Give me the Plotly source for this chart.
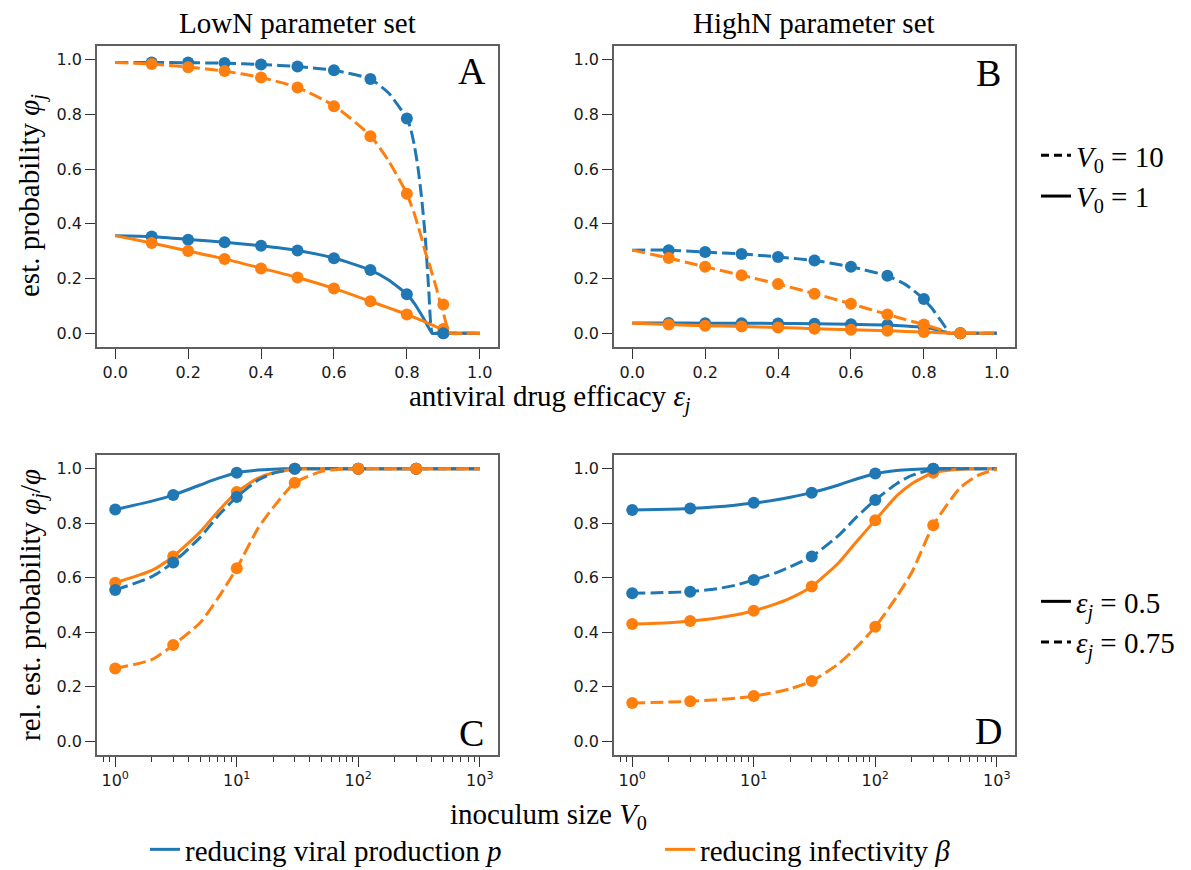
import plotly.graph_objects as go

# ---------------- data ----------------
BLUE = "#1f77b4"
ORANGE = "#ff7f0e"

# efficacy grid for the model curves (panels A, B)
eps_grid = [0, 0.1, 0.2, 0.3, 0.4, 0.5, 0.6, 0.7, 0.75, 0.8, 0.81, 0.82, 0.83, 0.84,
            0.85, 0.86, 0.87, 0.88, 0.89, 0.9, 0.91, 0.92, 0.95, 1.0]
# efficacies of the simulation points
eps_sim = [0.1, 0.2, 0.3, 0.4, 0.5, 0.6, 0.7, 0.8, 0.9]

# Panel A (LowN)
lowN_p_V1_curve = [0.357, 0.354, 0.343, 0.333, 0.320, 0.303, 0.275, 0.231, 0.195, 0.143, 0.128, 0.110,
                   0.090, 0.068, 0.045, 0.020, 0.0, 0, 0, 0, 0, 0, 0, 0]
lowN_b_V1_curve = [0.357, 0.330, 0.301, 0.272, 0.238, 0.204, 0.164, 0.117, 0.093, 0.069, 0.064, 0.058,
                   0.053, 0.047, 0.042, 0.036, 0.030, 0.024, 0.018, 0.010, 0.0, 0, 0, 0]
lowN_p_V10_curve = [0.990, 0.990, 0.989, 0.987, 0.982, 0.975, 0.961, 0.929, 0.878, 0.785, 0.750, 0.690,
                    0.610, 0.500, 0.360, 0.160, 0.0, 0, 0, 0, 0, 0, 0, 0]
lowN_b_V10_curve = [0.990, 0.984, 0.973, 0.958, 0.935, 0.898, 0.832, 0.722, 0.630, 0.510, 0.475, 0.440,
                    0.395, 0.350, 0.300, 0.260, 0.215, 0.170, 0.120, 0.075, 0.025, 0.0, 0, 0]
lowN_p_V1_sim = [0.354, 0.342, 0.333, 0.320, 0.303, 0.274, 0.231, 0.143, 0.0]
lowN_b_V1_sim = [0.330, 0.301, 0.272, 0.237, 0.204, 0.164, 0.117, 0.069, 0.016]
lowN_p_V10_sim = [0.990, 0.990, 0.988, 0.982, 0.975, 0.961, 0.929, 0.785, 0.0]
lowN_b_V10_sim = [0.984, 0.972, 0.959, 0.935, 0.898, 0.830, 0.720, 0.510, 0.105]

# Panel B (HighN)
highN_p_V1_curve = [0.038, 0.038, 0.037, 0.037, 0.036, 0.035, 0.033, 0.030, 0.027, 0.022, 0.020, 0.018,
                    0.015, 0.012, 0.008, 0.004, 0.0, 0, 0, 0, 0, 0, 0, 0]
highN_b_V1_curve = [0.037, 0.032, 0.028, 0.025, 0.021, 0.017, 0.013, 0.009, 0.007, 0.005, 0.0045, 0.004,
                    0.003, 0.0025, 0.002, 0.001, 0.0, 0, 0, 0, 0, 0, 0, 0]
highN_p_V10_curve = [0.304, 0.304, 0.297, 0.290, 0.279, 0.266, 0.243, 0.210, 0.178, 0.125, 0.110, 0.095,
                     0.077, 0.058, 0.040, 0.020, 0.0, 0, 0, 0, 0, 0, 0, 0]
highN_b_V10_curve = [0.304, 0.275, 0.243, 0.212, 0.180, 0.145, 0.108, 0.069, 0.050, 0.032, 0.028, 0.024,
                     0.020, 0.016, 0.012, 0.006, 0.0, 0, 0, 0, 0, 0, 0, 0]
highN_p_V1_sim = [0.038, 0.037, 0.037, 0.036, 0.035, 0.033, 0.030, 0.022, 0.0]
highN_b_V1_sim = [0.032, 0.028, 0.025, 0.021, 0.017, 0.013, 0.009, 0.005, 0.0]
highN_p_V10_sim = [0.304, 0.297, 0.290, 0.279, 0.266, 0.243, 0.210, 0.125, 0.0]
highN_b_V10_sim = [0.275, 0.243, 0.212, 0.180, 0.145, 0.108, 0.069, 0.032, 0.0]

# inoculum grid for model curves (panels C, D) and simulation inocula
V0_grid = [1, 2, 3, 5, 7, 10, 15, 20, 30, 50, 70, 100, 150, 200, 300, 500, 700, 1000]
V0_sim = [1, 3, 10, 30, 100, 300]

# Panel C (LowN, relative)
lowN_p_e50_curve = [0.850, 0.881, 0.903, 0.940, 0.964, 0.985, 0.995, 0.998, 1.0, 1, 1, 1, 1, 1, 1, 1, 1, 1]
lowN_b_e50_curve = [0.582, 0.627, 0.678, 0.768, 0.843, 0.914, 0.965, 0.985, 0.998, 1.0, 1, 1, 1, 1, 1, 1, 1, 1]
lowN_p_e75_curve = [0.555, 0.604, 0.656, 0.748, 0.826, 0.896, 0.958, 0.983, 0.998, 1.0, 1, 1, 1, 1, 1, 1, 1, 1]
lowN_b_e75_curve = [0.267, 0.300, 0.353, 0.435, 0.525, 0.635, 0.782, 0.858, 0.948, 0.990, 0.998, 1.0, 1, 1, 1, 1, 1, 1]
lowN_p_e50_sim = [0.850, 0.903, 0.985, 1.0, 1.0, 1.0]
lowN_b_e50_sim = [0.582, 0.678, 0.914, 1.0, 1.0, 1.0]
lowN_p_e75_sim = [0.555, 0.656, 0.896, 1.0, 1.0, 1.0]
lowN_b_e75_sim = [0.267, 0.353, 0.635, 0.948, 1.0, 1.0]

# Panel D (HighN, relative)
highN_p_e50_curve = [0.848, 0.851, 0.854, 0.860, 0.866, 0.874, 0.885, 0.895, 0.912, 0.940, 0.962, 0.981,
                     0.993, 0.997, 1.0, 1.0, 1.0, 1.0]
highN_b_e50_curve = [0.430, 0.435, 0.441, 0.452, 0.463, 0.479, 0.503, 0.525, 0.568, 0.655, 0.732, 0.811,
                     0.900, 0.945, 0.985, 0.998, 1.0, 1.0]
highN_p_e75_curve = [0.543, 0.546, 0.549, 0.560, 0.572, 0.592, 0.617, 0.640, 0.678, 0.755, 0.822, 0.885,
                     0.945, 0.975, 0.997, 1.0, 1.0, 1.0]
highN_b_e75_curve = [0.141, 0.144, 0.147, 0.153, 0.158, 0.166, 0.180, 0.193, 0.221, 0.285, 0.345, 0.420,
                     0.530, 0.620, 0.792, 0.930, 0.975, 0.998]
highN_p_e50_sim = [0.848, 0.854, 0.875, 0.912, 0.982, 1.0]
highN_b_e50_sim = [0.430, 0.441, 0.479, 0.568, 0.811, 0.985]
highN_p_e75_sim = [0.543, 0.549, 0.592, 0.678, 0.885, 1.0]
highN_b_e75_sim = [0.141, 0.147, 0.166, 0.221, 0.420, 0.792]

lin_ticks = [0, 0.2, 0.4, 0.6, 0.8, 1.0]
log_ticks = [1, 10, 100, 1000]
log_ticktext = ["10<sup>0</sup>", "10<sup>1</sup>", "10<sup>2</sup>", "10<sup>3</sup>"]
log_minor = [0.8, 0.9, 2, 3, 4, 5, 6, 7, 8, 9, 20, 30, 40, 50, 60, 70, 80, 90,
             200, 300, 400, 500, 600, 700, 800, 900]

# ---------------- figure ----------------
# the page body has an 8px margin, so the figure is 8px smaller and positions are shifted
OFF = 8
W, H = 1191 - OFF, 870 - OFF
SERIF = "Liberation Serif"
DASH = "13px,5px"
LW = 3
MS = 12

fig = go.Figure()


def add_series(xc, yc, xs, ys, color, dash, xa, ya):
    fig.add_trace(go.Scatter(x=xc, y=yc, mode="lines", xaxis=xa, yaxis=ya,
                             line=dict(color=color, width=LW, dash=dash, shape="spline", smoothing=0.6),
                             showlegend=False, hoverinfo="skip"))
    fig.add_trace(go.Scatter(x=xs, y=ys, mode="markers", xaxis=xa, yaxis=ya,
                             marker=dict(color=color, size=MS, line=dict(width=0)),
                             showlegend=False))


# Panel A
add_series(eps_grid, lowN_p_V1_curve, eps_sim, lowN_p_V1_sim, BLUE, "solid", "x", "y")
add_series(eps_grid, lowN_b_V1_curve, eps_sim, lowN_b_V1_sim, ORANGE, "solid", "x", "y")
add_series(eps_grid, lowN_p_V10_curve, eps_sim, lowN_p_V10_sim, BLUE, DASH, "x", "y")
add_series(eps_grid, lowN_b_V10_curve, eps_sim, lowN_b_V10_sim, ORANGE, DASH, "x", "y")
# Panel B
add_series(eps_grid, highN_p_V1_curve, eps_sim, highN_p_V1_sim, BLUE, "solid", "x2", "y2")
add_series(eps_grid, highN_b_V1_curve, eps_sim, highN_b_V1_sim, ORANGE, "solid", "x2", "y2")
add_series(eps_grid, highN_p_V10_curve, eps_sim, highN_p_V10_sim, BLUE, DASH, "x2", "y2")
add_series(eps_grid, highN_b_V10_curve, eps_sim, highN_b_V10_sim, ORANGE, DASH, "x2", "y2")
# Panel C
add_series(V0_grid, lowN_p_e50_curve, V0_sim, lowN_p_e50_sim, BLUE, "solid", "x3", "y3")
add_series(V0_grid, lowN_b_e50_curve, V0_sim, lowN_b_e50_sim, ORANGE, "solid", "x3", "y3")
add_series(V0_grid, lowN_p_e75_curve, V0_sim, lowN_p_e75_sim, BLUE, DASH, "x3", "y3")
add_series(V0_grid, lowN_b_e75_curve, V0_sim, lowN_b_e75_sim, ORANGE, DASH, "x3", "y3")
# Panel D
add_series(V0_grid, highN_p_e50_curve, V0_sim, highN_p_e50_sim, BLUE, "solid", "x4", "y4")
add_series(V0_grid, highN_b_e50_curve, V0_sim, highN_b_e50_sim, ORANGE, "solid", "x4", "y4")
add_series(V0_grid, highN_p_e75_curve, V0_sim, highN_p_e75_sim, BLUE, DASH, "x4", "y4")
add_series(V0_grid, highN_b_e75_curve, V0_sim, highN_b_e75_sim, ORANGE, DASH, "x4", "y4")

# legend entries
def legend_entry(name, color, dash, legend):
    fig.add_trace(go.Scatter(x=[None], y=[None], mode="lines", name=name, legend=legend,
                             line=dict(color=color, width=3, dash=dash), hoverinfo="skip"))

legend_entry("reducing viral production <i>p</i>", BLUE, "solid", "legend")
legend_entry("reducing infectivity <i>β</i>", ORANGE, "solid", "legend4")
legend_entry("<i>V</i><sub>0</sub> = 10", "black", "8px,5px", "legend2")
legend_entry("<i>V</i><sub>0</sub> = 1", "black", "solid", "legend2")
legend_entry("<i>ε<sub>j</sub></i> = 0.5", "black", "solid", "legend3")
legend_entry("<i>ε<sub>j</sub></i> = 0.75", "black", "8px,5px", "legend3")


def px_x(p):
    return (p - OFF) / W


def px_y(p):
    return 1 - (p - OFF) / H


colA = [px_x(97), px_x(498)]
colB = [px_x(614), px_x(1015)]
rowTop = [px_y(347), px_y(46)]
rowBot = [px_y(755), px_y(455)]

axis_common = dict(showline=True, mirror=True, linecolor="#5f5f5f", linewidth=1.5,
                   ticks="outside", ticklen=10, tickwidth=1.3, tickcolor="#333333",
                   tickfont=dict(family="DejaVu Sans", size=16, color="#1a1a1a"),
                   showgrid=False, zeroline=False, automargin=False)
lin_x = dict(axis_common, range=[-0.05, 1.05], tickmode="array", tickvals=lin_ticks,
             ticktext=[f"{v:.1f}" for v in lin_ticks])
log_x = dict(axis_common, type="log", range=[-0.15, 3.15], tickmode="array",
             tickvals=log_ticks, ticktext=log_ticktext,
             minor=dict(ticks="outside", ticklen=5, tickwidth=1, tickcolor="#333333",
                        tickmode="array", tickvals=log_minor, showgrid=False))
lin_y = dict(axis_common, range=[-0.05, 1.05], tickmode="array", tickvals=lin_ticks,
             ticktext=[f"{v:.1f}" for v in lin_ticks])

LEG_FONT = dict(family=SERIF, size=29, color="black")
fig.update_layout(
    width=W, height=H, margin=dict(l=0, r=0, t=0, b=0, autoexpand=False),
    paper_bgcolor="white", plot_bgcolor="white",
    xaxis=dict(lin_x, domain=colA, anchor="y"),
    yaxis=dict(lin_y, domain=rowTop, anchor="x"),
    xaxis2=dict(lin_x, domain=colB, anchor="y2"),
    yaxis2=dict(lin_y, domain=rowTop, anchor="x2"),
    xaxis3=dict(log_x, domain=colA, anchor="y3"),
    yaxis3=dict(lin_y, domain=rowBot, anchor="x3"),
    xaxis4=dict(log_x, domain=colB, anchor="y4"),
    yaxis4=dict(lin_y, domain=rowBot, anchor="x4"),
    legend=dict(x=px_x(145), y=-5 / H, xanchor="left", yanchor="bottom",
                font=LEG_FONT, bgcolor="rgba(0,0,0,0)", borderwidth=0),
    legend4=dict(x=px_x(660), y=-5 / H, xanchor="left", yanchor="bottom",
                 font=LEG_FONT, bgcolor="rgba(0,0,0,0)", borderwidth=0),
    legend2=dict(x=px_x(1036), y=px_y(176), xanchor="left", yanchor="middle",
                 font=LEG_FONT, bgcolor="rgba(0,0,0,0)", borderwidth=0, tracegroupgap=0),
    legend3=dict(x=px_x(1036), y=px_y(622), xanchor="left", yanchor="middle",
                 font=LEG_FONT, bgcolor="rgba(0,0,0,0)", borderwidth=0, tracegroupgap=0),
)

TXT = dict(family=SERIF, size=29, color="black")
ann = [
    dict(text="LowN parameter set", x=px_x(297), y=px_y(23)),
    dict(text="HighN parameter set", x=px_x(814), y=px_y(23)),
    dict(text="antiviral drug efficacy <i>ε<sub>j</sub></i>", x=px_x(550), y=px_y(399)),
    dict(text="inoculum size <i>V</i><sub>0</sub>", x=px_x(548), y=px_y(816)),
    dict(text="est. probability <i>φ<sub>j</sub></i>", x=px_x(32), y=px_y(196), textangle=-90),
    dict(text="rel. est. probability <i>φ<sub>j</sub></i>/<i>φ</i>", x=px_x(32), y=px_y(605), textangle=-90),
]
for a in ann:
    fig.add_annotation(xref="paper", yref="paper", showarrow=False, xanchor="center",
                       yanchor="middle", font=TXT, **a)

LET = dict(family=SERIF, size=38, color="black")
for letter, xr, yr, yy in [("A", "x domain", "y domain", 0.917), ("B", "x2 domain", "y2 domain", 0.91),
                           ("C", "x3 domain", "y3 domain", 0.073), ("D", "x4 domain", "y4 domain", 0.08)]:
    fig.add_annotation(text=letter, xref=xr, yref=yr, x=0.935, y=yy, showarrow=False,
                       xanchor="center", yanchor="middle", font=LET)

fig.write_html("out.html")
